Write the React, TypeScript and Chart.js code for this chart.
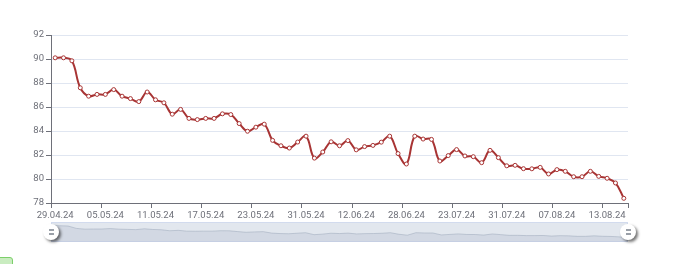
import React, { useEffect, useRef } from "react";
import { Chart, registerables } from "chart.js";

Chart.register(...registerables);

const dates: string[] = [
  "29.04.24", "30.04.24", "01.05.24", "02.05.24", "03.05.24", "04.05.24",
  "05.05.24", "06.05.24", "07.05.24", "08.05.24", "09.05.24", "10.05.24",
  "11.05.24", "12.05.24", "13.05.24", "14.05.24", "15.05.24", "16.05.24",
  "17.05.24", "18.05.24", "19.05.24", "20.05.24", "21.05.24", "22.05.24",
  "23.05.24", "24.05.24", "25.05.24", "27.05.24", "28.05.24", "29.05.24",
  "31.05.24", "01.06.24", "03.06.24", "05.06.24", "07.06.24", "10.06.24",
  "12.06.24", "14.06.24", "17.06.24", "19.06.24", "21.06.24", "25.06.24",
  "28.06.24", "02.07.24", "05.07.24", "09.07.24", "12.07.24", "17.07.24",
  "23.07.24", "24.07.24", "25.07.24", "26.07.24", "28.07.24", "30.07.24",
  "31.07.24", "01.08.24", "02.08.24", "03.08.24", "05.08.24", "06.08.24",
  "07.08.24", "08.08.24", "09.08.24", "10.08.24", "11.08.24", "12.08.24",
  "13.08.24", "14.08.24", "15.08.24",
];

const values: number[] = [
  90.1, 90.1, 89.85, 87.6, 86.9, 87.05,
  87.05, 87.45, 86.9, 86.7, 86.45, 87.25,
  86.6, 86.35, 85.4, 85.8, 85.05, 84.95,
  85.05, 85.05, 85.43, 85.37, 84.62, 83.98,
  84.32, 84.57, 83.22, 82.77, 82.58, 83.08,
  83.57, 81.74, 82.25, 83.1, 82.77, 83.2,
  82.43, 82.7, 82.8, 83.07, 83.57, 82.12,
  81.25, 83.57, 83.33, 83.3, 81.5, 81.95,
  82.45, 81.92, 81.86, 81.36, 82.39, 81.78,
  81.1, 81.14, 80.86, 80.85, 80.97, 80.42,
  80.78, 80.64, 80.19, 80.19, 80.64, 80.22,
  80.06, 79.67, 78.39,
];

const yTicks: number[] = [78, 80, 82, 84, 86, 88, 90, 92];
const LABEL_EVERY = 6;

const LINE = "#a83434";
const AXIS = "#6E7079";
const GRID = "#E0E6F1";
const FONT = { family: "Roboto", size: 9.5 };

export default function App() {
  const mainRef = useRef<HTMLCanvasElement | null>(null);
  const miniRef = useRef<HTMLCanvasElement | null>(null);

  useEffect(() => {
    if (!mainRef.current || !miniRef.current) return;
    const main = new Chart(mainRef.current, {
      type: "line",
      data: {
        labels: dates,
        datasets: [
          {
            data: values,
            borderColor: LINE,
            borderWidth: 2,
            tension: 0.4,
            pointRadius: 2,
            pointBorderWidth: 1,
            pointBackgroundColor: "#ffffff",
            pointBorderColor: LINE,
            fill: false,
          },
        ],
      },
      options: {
        responsive: false,
        animation: false,
        devicePixelRatio: 1,
        layout: { padding: { left: 0, top: 35, right: 52, bottom: 40 } },
        plugins: { legend: { display: false }, tooltip: { enabled: false } },
        scales: {
          x: {
            type: "category",
            offset: true,
            grid: {
              offset: true,
              drawOnChartArea: false,
              drawTicks: true,
              tickLength: 5,
              tickColor: (ctx: any) => {
                const i = ctx.index;
                if (i === undefined) return AXIS;
                return i % LABEL_EVERY === 0 ? AXIS : "rgba(0,0,0,0)";
              },
            },
            border: { color: AXIS, width: 1 },
            ticks: {
              autoSkip: false,
              maxRotation: 0,
              minRotation: 0,
              padding: 2,
              color: AXIS,
              font: FONT,
              callback: (_v: any, i: number) => (i % LABEL_EVERY === 0 ? dates[i] : ""),
            },
            afterFit: (s: any) => {
              s.height = 21;
            },
          },
          y: {
            min: yTicks[0],
            max: yTicks[yTicks.length - 1],
            afterBuildTicks: (s: any) => {
              s.ticks = yTicks.map((v) => ({ value: v }));
            },
            ticks: { padding: 2, color: AXIS, font: FONT },
            grid: { color: GRID, tickColor: AXIS, tickLength: 5 },
            border: { color: AXIS, width: 1 },
            afterFit: (s: any) => {
              s.width = 51;
            },
          },
        },
      },
    });

    const lo = Math.min(...values);
    const hi = Math.max(...values);
    const pad = (hi - lo) * 0.3;
    const mini = new Chart(miniRef.current, {
      type: "line",
      data: {
        labels: dates,
        datasets: [
          {
            data: values,
            borderColor: "rgba(150,162,182,0.6)",
            borderWidth: 0.8,
            pointRadius: 0,
            tension: 0,
            fill: "start",
            backgroundColor: "rgba(150,162,185,0.2)",
          },
        ],
      },
      options: {
        responsive: false,
        animation: false,
        devicePixelRatio: 1,
        layout: { padding: 0 },
        plugins: { legend: { display: false }, tooltip: { enabled: false } },
        scales: {
          x: { display: false, offset: false },
          y: { display: false, min: lo - pad, max: hi + pad },
        },
      },
    });

    return () => {
      main.destroy();
      mini.destroy();
    };
  }, []);

  const handle = (cx: number): React.CSSProperties => ({
    position: "absolute",
    left: cx - 8,
    top: 224,
    width: 16,
    height: 16,
    borderRadius: "50%",
    background: "#ffffff",
    boxShadow: "2px 2px 3px rgba(0,0,0,0.55)",
  });
  const bar = (dy: number): React.CSSProperties => ({
    position: "absolute",
    left: 5.5,
    top: 8 + dy - 0.6,
    width: 5,
    height: 1.2,
    background: "#9aa0a8",
  });

  return (
    <div style={{ position: "absolute", left: 0, top: 0, width: 680, height: 264, background: "#ffffff", overflow: "hidden" }}>
      <canvas ref={mainRef} width={680} height={264} style={{ position: "absolute", left: 0, top: 0, width: 680, height: 264 }} />
      <div
        style={{
          position: "absolute",
          left: 51,
          top: 222,
          width: 577,
          height: 20,
          background: "#e2e7ee",
          boxSizing: "border-box",
          border: "1px solid #d2dbee",
        }}
      />
      <canvas ref={miniRef} width={577} height={20} style={{ position: "absolute", left: 51, top: 222, width: 577, height: 20 }} />
      <div style={handle(51)}>
        <div style={bar(-2)} />
        <div style={bar(2)} />
      </div>
      <div style={handle(628)}>
        <div style={bar(-2)} />
        <div style={bar(2)} />
      </div>
      <div
        style={{
          position: "absolute",
          left: -3,
          top: 257,
          width: 14,
          height: 12,
          borderRadius: 3,
          background: "#c9ecc0",
          border: "1px solid #7ccf6a",
        }}
      />
    </div>
  );
}
